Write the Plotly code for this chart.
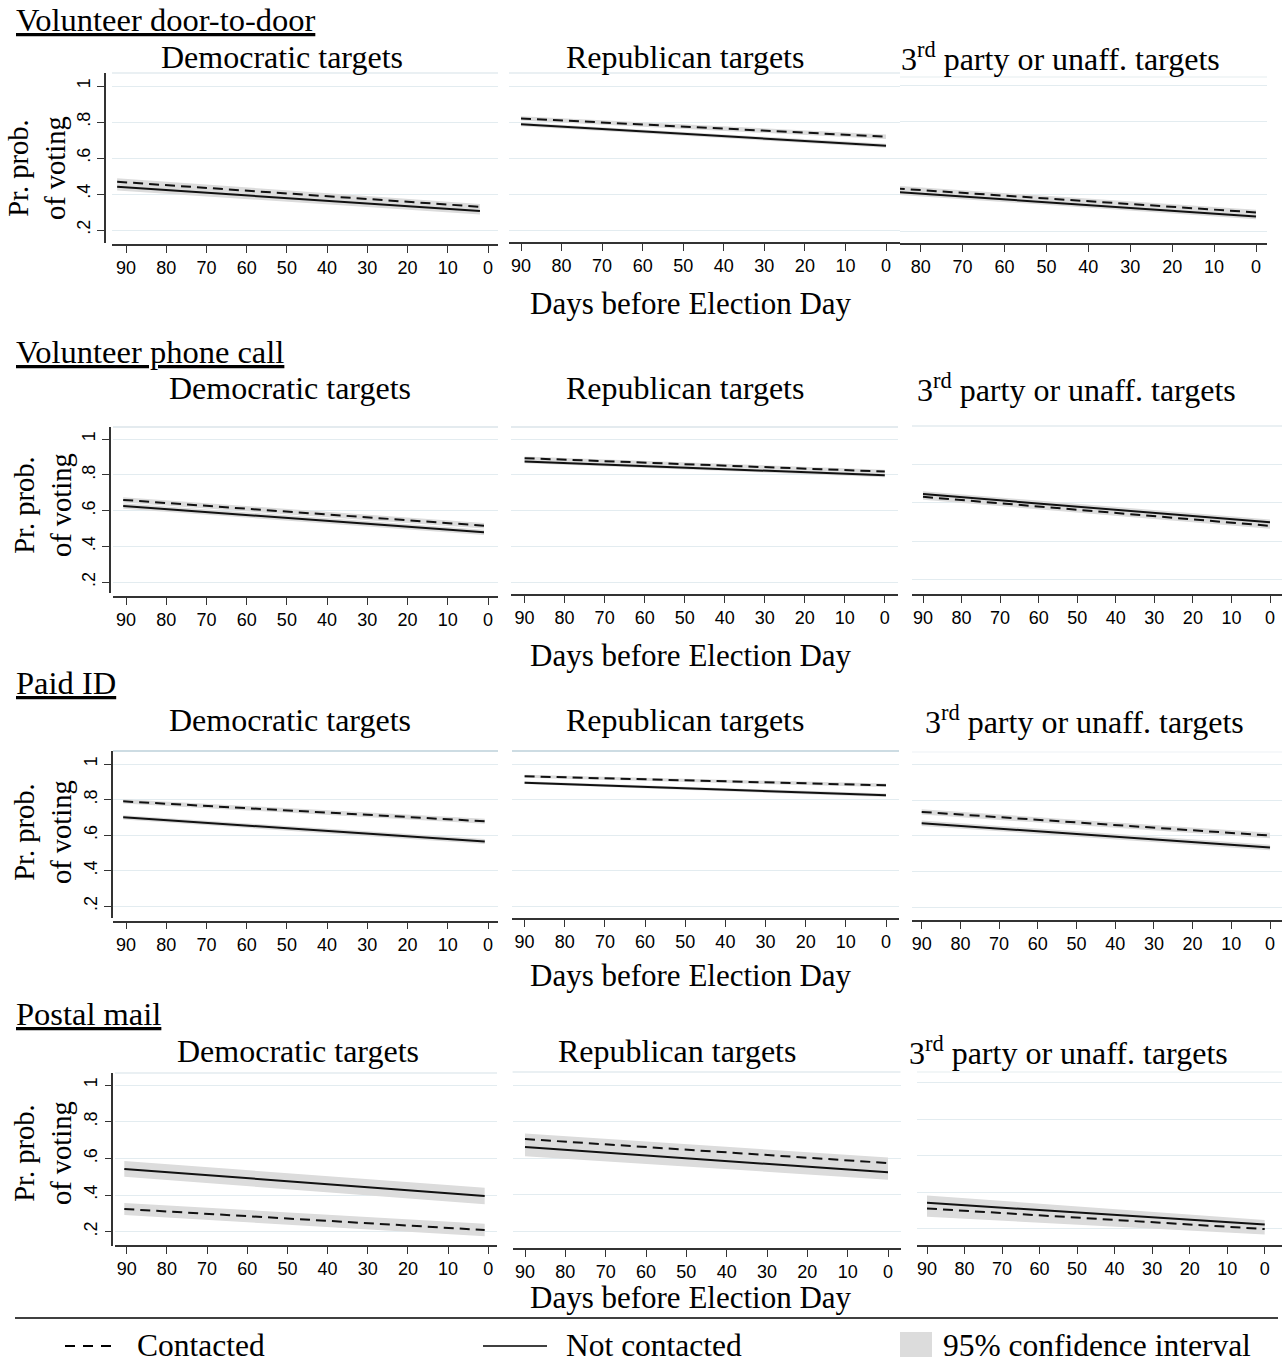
import plotly.graph_objects as go

W, H = 1286, 1365

# ---------------- data ----------------
SECTIONS = ["Volunteer door-to-door", "Volunteer phone call", "Paid ID", "Postal mail"]
PANEL_TITLES = ["Democratic targets", "Republican targets",
                "3<sup>rd</sup> party or unaff. targets"]
X_LABEL = "Days before Election Day"
Y_LABEL = "Pr. prob.<br>of voting"
X_TICKS = [90, 80, 70, 60, 50, 40, 30, 20, 10, 0]
Y_TICKS = [0.2, 0.4, 0.6, 0.8, 1.0]
Y_TICKTEXT = [".2", ".4", ".6", ".8", "1"]
LEGEND_LABELS = ["Contacted", "Not contacted", "95% confidence interval"]

# panels in row-major order: (program) x (Dem, Rep, 3rd party)
DAYS = [[92.2, 2.0], [90, 0], [90, 0],
        [90.7, 1.0], [90, 0], [90, 0],
        [90.7, 0.8], [90, 0], [90, 0],
        [90.6, 0.9], [90, 0], [90, 0]]

CONTACTED = [[0.468, 0.329], [0.820, 0.718], [0.440, 0.302],
             [0.660, 0.516], [0.893, 0.818], [0.630, 0.479],
             [0.790, 0.678], [0.931, 0.880], [0.734, 0.602],
             [0.324, 0.209], [0.705, 0.573], [0.311, 0.198]]
CONTACTED_LO = [[0.448, 0.314], [0.808, 0.705], [0.425, 0.288],
                [0.645, 0.501], [0.883, 0.808], [0.615, 0.464],
                [0.778, 0.664], [0.923, 0.870], [0.719, 0.587],
                [0.291, 0.175], [0.675, 0.543], [0.266, 0.168]]
CONTACTED_HI = [[0.488, 0.344], [0.832, 0.731], [0.455, 0.316],
                [0.675, 0.531], [0.903, 0.828], [0.645, 0.494],
                [0.802, 0.692], [0.939, 0.890], [0.749, 0.617],
                [0.357, 0.243], [0.735, 0.603], [0.356, 0.228]]

NOT_CONTACTED = [[0.440, 0.306], [0.787, 0.668], [0.421, 0.279],
                 [0.626, 0.479], [0.875, 0.797], [0.644, 0.497],
                 [0.700, 0.564], [0.895, 0.824], [0.671, 0.535],
                 [0.542, 0.395], [0.661, 0.522], [0.342, 0.223]]
NOT_CONTACTED_LO = [[0.420, 0.286], [0.777, 0.657], [0.406, 0.265],
                    [0.611, 0.464], [0.865, 0.787], [0.629, 0.482],
                    [0.688, 0.550], [0.887, 0.814], [0.656, 0.520],
                    [0.499, 0.350], [0.611, 0.482], [0.302, 0.198]]
NOT_CONTACTED_HI = [[0.460, 0.322], [0.797, 0.679], [0.436, 0.293],
                    [0.641, 0.494], [0.885, 0.807], [0.659, 0.512],
                    [0.712, 0.578], [0.903, 0.834], [0.686, 0.550],
                    [0.585, 0.440], [0.711, 0.562], [0.382, 0.248]]

# ---------------- layout geometry (pixels) ----------------
# left, right, top, bottom, x-axis line y, y-axis line x (None = hidden),
# x reference (dayA, pxA, dayB, pxB), y reference (valA, pxA, valB, pxB), top border colour
GEOM = [
    (112, 498, 73, 243, 245, 105, (90, 126, 0, 488), (1.0, 86, 0.2, 230), "#e3ebef"),
    (509, 900, 73, 243, 243, None, (90, 521, 0, 886), (1.0, 86, 0.2, 230), "#e3ebef"),
    (900, 1267, 77, 244, 244, None, (80, 920.7, 0, 1256), (0.8, 121.7, 0.2, 231), "#eef3f5"),
    (113, 498, 427, 593, 597, 110, (90, 126, 0, 488), (1.0, 439, 0.2, 582.3), "#dbe5ea"),
    (511, 898, 427, 595, 595, None, (90, 524.6, 0, 884.8), (1.0, 439, 0.2, 582.3), "#dbe5ea"),
    (912, 1282, 426, 595, 595, None, (90, 923, 0, 1270), (1.0, 425.7, 0.4, 541), "#e3ebef"),
    (113, 498, 751, 918, 921.7, 111.5, (90, 126, 0, 488), (1.0, 764, 0.2, 906.3), "#bcd0da"),
    (512, 899, 751, 919, 919, None, (90, 524.6, 0, 886), (1.0, 764, 0.2, 906.3), "#bcd0da"),
    (912, 1282, 752, 921, 921, None, (90, 921.7, 0, 1270), (1.0, 764.3, 0.4, 871.7), "#f3f6f8"),
    (115, 497, 1073, 1246, 1246, 112.3, (90, 126.7, 0, 488.3), (1.0, 1085, 0.2, 1231.7), "#e3ebef"),
    (512.6, 900.5, 1072, 1249, 1249, None, (90, 525, 0, 888), (0.8, 1121.7, 0.2, 1231), "#e3ebef"),
    (917, 1282, 1072, 1246, 1246, None, (90, 927, 0, 1264.7), (0.8, 1119.3, 0.2, 1228.7), "#eef3f5"),
]
ROW_TITLE_Y = [57, 388, 720, 1051]
COL_TITLE_X = [[282, 685, 1060], [290, 685, 1076], [290, 685, 1084], [298, 677, 1068]]
SECTION_Y = [20, 352, 683, 1014]
XLABEL_Y = [303, 655, 975, 1297]
YLABEL_POS = [(37, 168), (43, 505), (43, 832), (43, 1153)]

SERIF = "Liberation Serif, Times New Roman, serif"
SANS = "Liberation Sans, Arial, sans-serif"
GRID = "#e3ecf0"
BAND = "#dcdcdc"
INK = "#111111"


def px(x):
    return x / W


def py(y):
    return 1 - y / H


fig = go.Figure()
layout = dict(
    width=W, height=H, margin=dict(l=0, r=0, t=0, b=0),
    paper_bgcolor="white", plot_bgcolor="white", showlegend=False,
)
shapes = []
annotations = []

for i, g in enumerate(GEOM):
    left, right, top, bottom, axy, yax, xref, yref, topcol = g
    n = "" if i == 0 else str(i + 1)
    xa_name, ya_name = "xaxis" + n, "yaxis" + n
    xid, yid = "x" + n, "y" + n

    dA, pA, dB, pB = xref
    ppd = (pB - pA) / (dA - dB)
    x_left = dA + (pA - left) / ppd
    x_right = dB - (right - pB) / ppd

    vA, qA, vB, qB = yref
    ppv = (qB - qA) / (vA - vB)
    y_top = vA + (qA - top) / ppv
    y_bot = vB - (bottom - qB) / ppv

    layout[xa_name] = dict(
        domain=[px(left), px(right)], range=[x_left, x_right],
        anchor="free", position=py(axy),
        tickvals=X_TICKS, ticks="outside", ticklen=7, tickwidth=1.3,
        tickcolor="#333", showline=True, linecolor="#333", linewidth=1.5,
        showgrid=False, zeroline=False,
        tickfont=dict(family=SANS, size=18, color="black"),
        fixedrange=True,
    )
    ya = dict(
        domain=[py(bottom), py(top)], range=[y_bot, y_top],
        tickvals=Y_TICKS, ticktext=Y_TICKTEXT,
        showgrid=True, gridcolor=GRID, gridwidth=1.3, zeroline=False,
        fixedrange=True,
    )
    if yax is not None:
        ya.update(anchor="free", position=px(yax), showline=True,
                  linecolor="#333", linewidth=1.5, ticks="outside", ticklen=7,
                  tickwidth=1.3, tickcolor="#333", tickangle=-90,
                  tickfont=dict(family=SANS, size=18, color="black"))
    else:
        ya.update(anchor=xid, showline=False, ticks="", showticklabels=False)
    layout[ya_name] = ya

    # top border of plot region
    shapes.append(dict(type="line", xref="paper", yref="paper",
                       x0=px(left), x1=px(right), y0=py(top), y1=py(top),
                       line=dict(color=topcol, width=1.5)))

    d = DAYS[i]
    # confidence bands
    for lo, hi in ((NOT_CONTACTED_LO[i], NOT_CONTACTED_HI[i]),
                   (CONTACTED_LO[i], CONTACTED_HI[i])):
        fig.add_trace(go.Scatter(
            x=[d[0], d[1], d[1], d[0], d[0]],
            y=[hi[0], hi[1], lo[1], lo[0], hi[0]],
            mode="lines", fill="toself", fillcolor=BAND,
            line=dict(width=0, color=BAND), hoverinfo="skip",
            xaxis=xid, yaxis=yid))
    fig.add_trace(go.Scatter(
        x=d, y=NOT_CONTACTED[i], mode="lines",
        line=dict(color=INK, width=2), name=LEGEND_LABELS[1],
        xaxis=xid, yaxis=yid))
    fig.add_trace(go.Scatter(
        x=d, y=CONTACTED[i], mode="lines",
        line=dict(color=INK, width=2, dash="10px,6px"), name=LEGEND_LABELS[0],
        xaxis=xid, yaxis=yid))

# text
for r in range(4):
    annotations.append(dict(
        text="<u>" + SECTIONS[r] + "</u>", x=px(14), y=py(SECTION_Y[r]),
        xref="paper", yref="paper", xanchor="left", yanchor="middle",
        showarrow=False, font=dict(family=SERIF, size=32.5, color="black")))
    for c in range(3):
        annotations.append(dict(
            text=PANEL_TITLES[c], x=px(COL_TITLE_X[r][c]), y=py(ROW_TITLE_Y[r]),
            xref="paper", yref="paper", xanchor="center", yanchor="middle",
            showarrow=False, font=dict(family=SERIF, size=32, color="black")))
    annotations.append(dict(
        text=X_LABEL, x=px(691), y=py(XLABEL_Y[r]),
        xref="paper", yref="paper", xanchor="center", yanchor="middle",
        showarrow=False, font=dict(family=SERIF, size=31, color="black")))
    yx, yy = YLABEL_POS[r]
    annotations.append(dict(
        text=Y_LABEL, x=px(yx), y=py(yy), textangle=-90,
        xref="paper", yref="paper", xanchor="center", yanchor="middle",
        showarrow=False, font=dict(family=SERIF, size=28.5, color="black")))

# legend (drawn as decorations)
shapes.append(dict(type="line", xref="paper", yref="paper",
                   x0=px(15), x1=px(1278), y0=py(1318), y1=py(1318),
                   line=dict(color="black", width=1.5)))
shapes.append(dict(type="line", xref="paper", yref="paper",
                   x0=px(65), x1=px(112), y0=py(1346), y1=py(1346),
                   line=dict(color="black", width=2, dash="10px,8px")))
shapes.append(dict(type="line", xref="paper", yref="paper",
                   x0=px(483), x1=px(547), y0=py(1346), y1=py(1346),
                   line=dict(color="black", width=1.3)))
shapes.append(dict(type="rect", xref="paper", yref="paper",
                   x0=px(900), x1=px(932), y0=py(1357), y1=py(1332),
                   fillcolor=BAND, line=dict(width=0)))
for label, lx in zip(LEGEND_LABELS, [135, 564, 941]):
    annotations.append(dict(
        text=label, x=px(lx), y=py(1345), xref="paper", yref="paper",
        xanchor="left", yanchor="middle", showarrow=False,
        font=dict(family=SERIF, size=31.5, color="black")))

layout["shapes"] = shapes
layout["annotations"] = annotations
fig.update_layout(**layout)

fig.write_html("out.html", config={"displayModeBar": False},
               post_script="document.body.style.margin='0px';document.body.style.overflow='hidden';")
